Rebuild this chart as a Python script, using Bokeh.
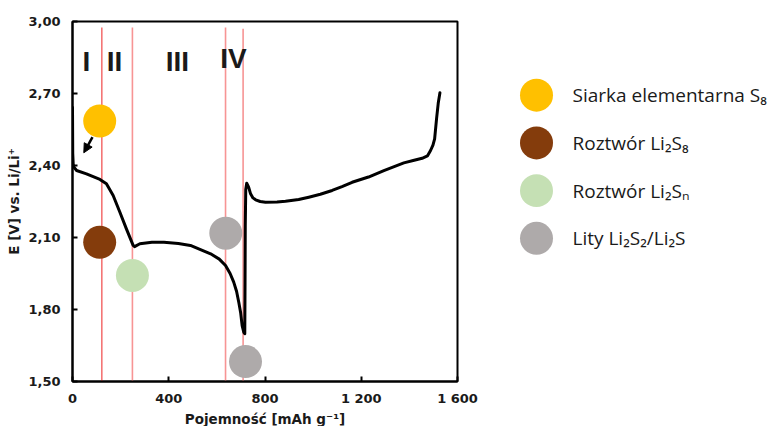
from bokeh.plotting import figure
from bokeh.layouts import row
from bokeh.models import Range1d, FixedTicker, Arrow, NormalHead
from bokeh.core.properties import value
from bokeh.embed import file_html
from bokeh.resources import INLINE

# ---- data ----
discharge_x = [0, 1, 3, 6, 17, 58, 114, 141, 169, 197, 224, 252, 258, 280, 330, 380,
               440, 490, 574, 610, 636, 655, 670, 682, 691, 699, 705, 712, 716]
discharge_y = [2.642, 2.45, 2.405, 2.393, 2.379, 2.365, 2.342, 2.324, 2.275, 2.205, 2.136,
               2.067, 2.062, 2.074, 2.08, 2.08, 2.075, 2.067, 2.032, 2.01, 1.983, 1.95,
               1.914, 1.875, 1.83, 1.785, 1.733, 1.705, 1.699]
charge_x = [717, 718, 720, 724, 732, 740, 750, 761, 780, 802, 850, 885, 940, 982, 1030,
            1079, 1120, 1162, 1230, 1294, 1377, 1420, 1453, 1475, 1488, 1498, 1505, 1513,
            1520, 1527]
charge_y = [1.90, 2.15, 2.30, 2.326, 2.31, 2.282, 2.265, 2.257, 2.25, 2.247, 2.248, 2.251,
            2.258, 2.268, 2.28, 2.296, 2.312, 2.33, 2.352, 2.379, 2.411, 2.422, 2.43, 2.44,
            2.4625, 2.485, 2.511, 2.595, 2.66, 2.703]

region_bounds = [122, 249, 636, 709]
region_labels = ["I", "II", "III", "IV"]
region_label_x = [58, 175, 436, 669]
region_label_y = [2.833, 2.833, 2.833, 2.845]

marker_x = [113, 113, 249, 637, 719]
marker_y = [2.585, 2.08, 1.942, 2.118, 1.583]
marker_colors = ["#FFC000", "#843C0C", "#C5E0B4", "#AEAAAA", "#AEAAAA"]

arrow_start = (83, 2.518)
arrow_end = (47, 2.453)

x_ticks = [0, 400, 800, 1200, 1600]
x_tick_labels = ["0", "400", "800", "1 200", "1 600"]
y_ticks = [1.5, 1.8, 2.1, 2.4, 2.7, 3.0]
y_tick_labels = ["1,50", "1,80", "2,10", "2,40", "2,70", "3,00"]

legend_labels = ["Siarka elementarna S\u2088", "Roztw\u00f3r Li\u2082S\u2088",
                 "Roztw\u00f3r Li\u2082S\u2099", "Lity Li\u2082S\u2082/Li\u2082S"]
legend_colors = ["#FFC000", "#843C0C", "#C5E0B4", "#AEAAAA"]

# ---- main chart ----
H = 424
p = figure(frame_width=385, frame_height=360, x_range=Range1d(0, 1600),
           y_range=Range1d(1.5, 3.0), output_backend="svg", toolbar_location=None,
           min_border_left=72, min_border_right=28, min_border_top=21, min_border_bottom=43)
p.xgrid.visible = False
p.ygrid.visible = False
p.outline_line_color = "black"
p.outline_line_width = 2
p.background_fill_color = "white"
p.border_fill_color = "white"

tick_font = "DejaVu Sans"
for ax in (p.xaxis[0], p.yaxis[0]):
    ax.axis_line_color = "black"
    ax.axis_line_width = 2
    ax.major_tick_in = 5
    ax.major_tick_out = 0
    ax.major_tick_line_width = 2
    ax.minor_tick_line_color = None
    ax.major_label_text_font = tick_font
    ax.major_label_text_font_style = "bold"
    ax.major_label_text_font_size = "13px"
    ax.major_label_text_color = "#1a1a1a"
    ax.axis_label_text_font = tick_font
    ax.axis_label_text_font_style = "bold"
    ax.axis_label_text_font_size = "13.5px"
    ax.axis_label_text_color = "#1a1a1a"

p.xaxis.ticker = FixedTicker(ticks=x_ticks)
p.xaxis.major_label_overrides = dict(zip(x_ticks, x_tick_labels))
p.yaxis.ticker = FixedTicker(ticks=y_ticks)
p.yaxis.major_label_overrides = dict(zip(y_ticks, y_tick_labels))
p.xaxis.major_label_standoff = 9
p.xaxis.axis_label_standoff = 2
p.yaxis.major_label_standoff = 12
p.yaxis.axis_label_standoff = 3
p.xaxis.axis_label = "Pojemno\u015b\u0107 [mAh g\u207b\u00b9]"
p.yaxis.axis_label = "E [V] vs. Li/Li\u207a"

# region boundaries
p.segment(x0=region_bounds[:1], y0=[1.5], x1=region_bounds[:1], y1=[2.975],
          line_color="#f04848", line_width=1.2)
p.segment(x0=region_bounds[1:], y0=[1.5] * 3, x1=region_bounds[1:], y1=[2.975, 2.975, 2.97],
          line_color="#f79494", line_width=1.6)

# curve
p.line(discharge_x + charge_x, discharge_y + charge_y, line_color="black", line_width=3,
       line_join="round", line_cap="round")

# markers
p.scatter(marker_x, marker_y, size=33, fill_color=marker_colors, line_color=None)

# arrow
p.add_layout(Arrow(end=NormalHead(size=9, fill_color="black", line_color="black"),
                   x_start=arrow_start[0], y_start=arrow_start[1],
                   x_end=arrow_end[0], y_end=arrow_end[1],
                   line_color="black", line_width=2.5))

# region labels
p.text(region_label_x, region_label_y, text=region_labels,
       text_font=value("Liberation Sans"), text_font_style="bold", text_font_size="28px",
       text_align="center", text_baseline="middle", text_color="#1a1a1a")

# ---- legend figure ----
lw = 285
lg = figure(width=lw, height=H, x_range=Range1d(0, lw), y_range=Range1d(H, 0),
            x_axis_location=None, y_axis_location=None,
            output_backend="svg", toolbar_location=None, min_border=0)
lg.grid.visible = False
lg.outline_line_color = None
row_y0, row_gap = 88, 57
ly = [row_y0 + i * row_gap for i in range(len(legend_labels))]
lg.scatter([51] * len(ly), ly, size=33, fill_color=legend_colors, line_color=None)
lg.text([87] * len(ly), ly, text=legend_labels, text_font=value("Open Sans"),
        text_font_size="19px", text_align="left", text_baseline="middle",
        text_color="#1a1a1a")

layout = row(p, lg)
open("out.html", "w").write(file_html(layout, INLINE))
